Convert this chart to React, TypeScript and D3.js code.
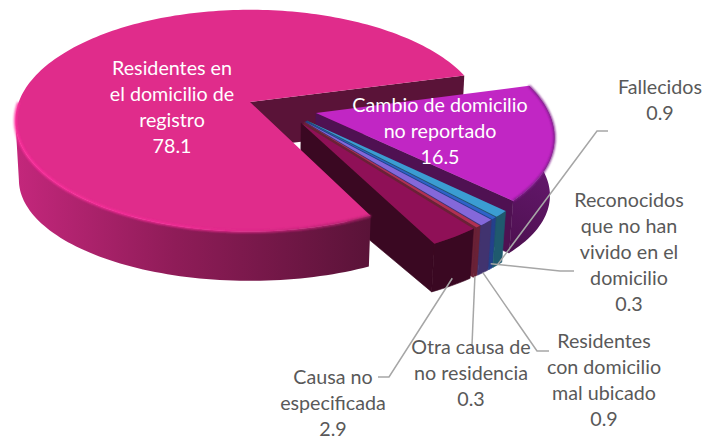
import React from "react";
import * as d3 from "d3";

const categories = [
  "Residentes en el domicilio de registro",
  "Cambio de domicilio no reportado",
  "Fallecidos",
  "Reconocidos que no han vivido en el domicilio",
  "Residentes con domicilio mal ubicado",
  "Otra causa de no residencia",
  "Causa no especificada",
];
const values = [78.1, 16.5, 0.9, 0.3, 0.9, 0.3, 2.9];
const valueLabels = ["78.1", "16.5", "0.9", "0.3", "0.9", "0.3", "2.9"];
const labelLines = [
  ["Residentes en", "el domicilio de", "registro"],
  ["Cambio de domicilio", "no reportado"],
  ["Fallecidos"],
  ["Reconocidos", "que no han", "vivido en el", "domicilio"],
  ["Residentes", "con domicilio", "mal ubicado"],
  ["Otra causa de", "no residencia"],
  ["Causa no", "especificada"],
];
const topColors = ["#e02c8b", "#c126c4", "#3b9dd2", "#2f62c8", "#8468da", "#b23052", "#8f1057"];
const wallColors = ["#5a1338", "#4f1152", "#1f5a6e", "#24408c", "#41336f", "#6a2136", "#3a0822"];
const labelX = [172, 440, 660, 629, 604, 471, 333];
const labelY = [68, 105, 87, 200, 341, 347, 377];
const leaderEnds: [number, number][][] = [
  [],
  [],
  [[597, 131], [608, 131]],
  [[560, 271], [574, 271]],
  [[537, 351], [549, 351]],
  [[472, 345]],
  [[389, 377], [378, 377]],
];
const leaderDepth = [0, 0, 1, 0.9, 1, 1, 0.85];

// Perspective plane of the pie
const cx = 250, cy = 102, Rx = 233.6, Ry = 108.8, persp = 0.17;
const scaleBottomX = 0.985, scaleBottomY = 0.91, bottomShift = 61;
const mainRadius = 0.99, sliceRadius = 0.98, explosion = 0.148;
const mainWallDepth = 0.75;
const lineH = 26;

function project(X: number, Y: number, z: number): [number, number] {
  const w = 1 - persp * Y;
  const x = (Rx * X) / w;
  const y = (Ry * Y) / w;
  const kx = 1 + (scaleBottomX - 1) * z;
  const ky = 1 + (scaleBottomY - 1) * z;
  return [cx + x * kx, cy + y * ky + bottomShift * z];
}

const arcs = d3
  .pie<number>()
  .sort(null)
  .startAngle((153.7 * Math.PI) / 180)
  .endAngle((513.7 * Math.PI) / 180)(values);

const toTheta = (a: number) => a - Math.PI / 2;
const mainMid = toTheta((arcs[0].startAngle + arcs[0].endAngle) / 2);

const slices = arcs.map((a, i) => {
  const t0 = toTheta(a.startAngle);
  const t1 = toTheta(a.endAngle);
  const mid = (t0 + t1) / 2;
  const ox = explosion * (Math.cos(mid) - Math.cos(mainMid));
  const oy = explosion * (Math.sin(mid) - Math.sin(mainMid));
  const r = i === 0 ? mainRadius : sliceRadius;
  const pt = (t: number, f: number, z: number) =>
    project(ox + f * r * Math.cos(t), oy + f * r * Math.sin(t), z);
  return { i, t0, t1, mid, ox, oy, pt };
});

const line = d3.line();
const closed = (pts: [number, number][]) => line(pts)! + "Z";

function arcPts(s: (typeof slices)[number], a0: number, a1: number, z: number) {
  const n = Math.max(2, Math.ceil(Math.abs(a1 - a0) * 40));
  return d3.range(n + 1).map((k) => s.pt(a0 + ((a1 - a0) * k) / n, 1, z));
}
function topPath(s: (typeof slices)[number]) {
  return closed([s.pt(0, 0, 0), ...arcPts(s, s.t0, s.t1, 0)]);
}
function sidePath(s: (typeof slices)[number], a0: number, a1: number) {
  return closed([...arcPts(s, a0, a1, 0), ...arcPts(s, a1, a0, 1)]);
}
function wallPath(s: (typeof slices)[number], t: number, z = 1) {
  return closed([s.pt(0, 0, 0), s.pt(t, 1, 0), s.pt(t, 1, z), s.pt(0, 0, z)]);
}

const main = slices[0];
const mainFrontEnd = main.t0 + (106.5 * Math.PI) / 180;
const mainRimEnd = main.t0 + (116 * Math.PI) / 180;

export default function App() {
  return (
    <svg
      width={720}
      height={439}
      viewBox="0 0 720 439"
      style={{ position: "absolute", left: 0, top: 0, background: "#fff" }}
      fontFamily="Lato, 'Open Sans', sans-serif"
      fontSize={19.7}
    >
      <defs>
        <linearGradient id="mainSide" gradientUnits="userSpaceOnUse" x1={15} x2={370} y1={0} y2={0}>
          <stop offset="0" stopColor="#c4277c" />
          <stop offset="0.45" stopColor="#8f1c58" />
          <stop offset="1" stopColor="#5a1338" />
        </linearGradient>
        <linearGradient id="mainRim" gradientUnits="userSpaceOnUse" x1={15} x2={370} y1={0} y2={0}>
          <stop offset="0" stopColor="#ff2f9e" />
          <stop offset="0.5" stopColor="#f02a94" />
          <stop offset="1" stopColor="#a82068" />
        </linearGradient>
        <linearGradient id="purpleSide" gradientUnits="userSpaceOnUse" x1={505} x2={555} y1={240} y2={130}>
          <stop offset="0" stopColor="#4f1152" />
          <stop offset="1" stopColor="#6e1a78" />
        </linearGradient>
        <filter id="soft" x="-10%" y="-10%" width="120%" height="120%">
          <feGaussianBlur stdDeviation="0.9" />
        </filter>
      </defs>

      {/* back wall of the main slice */}
      <path d={wallPath(main, main.t1, mainWallDepth)} fill={wallColors[0]} />

      {/* exploded slices, back to front */}
      {slices.slice(1).map((s) => (
        <g key={categories[s.i]}>
          <path d={wallPath(s, s.t1)} fill={wallColors[s.i]} stroke={wallColors[s.i]} strokeWidth={0.6} />
          <path
            d={sidePath(s, s.t0, s.t1)}
            fill={s.i === 1 ? "url(#purpleSide)" : wallColors[s.i]}
            stroke={s.i === 1 ? "none" : wallColors[s.i]}
            strokeWidth={0.6}
          />
          <path d={topPath(s)} fill={topColors[s.i]} />
          {s.i === 1 ? (
            <path
              d={line(arcPts(s, s.t0, s.t1, 0))!}
              fill="none"
              stroke="#7d1c88"
              strokeWidth={2.2}
              filter="url(#soft)"
            />
          ) : null}
        </g>
      ))}

      {/* front of the main slice */}
      <path d={sidePath(main, main.t0, mainFrontEnd)} fill="url(#mainSide)" />
      <path d={topPath(main)} fill={topColors[0]} />
      <path
        d={line(arcPts(main, main.t0, mainRimEnd, 0))!}
        fill="none"
        stroke="url(#mainRim)"
        strokeWidth={2.5}
        filter="url(#soft)"
      />

      {/* leader lines */}
      {slices.map((s) =>
        leaderEnds[s.i].length ? (
          <path
            key={"l" + s.i}
            d={line([s.pt(s.mid, 1, leaderDepth[s.i]), ...leaderEnds[s.i]])!}
            fill="none"
            stroke="#a6a6a6"
            strokeWidth={1.5}
          />
        ) : null
      )}

      {/* labels */}
      {slices.map((s) => {
        const lines = [...labelLines[s.i], valueLabels[s.i]];
        return (
          <text
            key={"t" + s.i}
            x={labelX[s.i]}
            y={labelY[s.i]}
            textAnchor="middle"
            fill={s.i < 2 ? "#ffffff" : "#595959"}
          >
            {lines.map((l, k) => (
              <tspan key={k} x={labelX[s.i]} y={labelY[s.i] + k * lineH} dy="0.35em">
                {l}
              </tspan>
            ))}
          </text>
        );
      })}
    </svg>
  );
}
